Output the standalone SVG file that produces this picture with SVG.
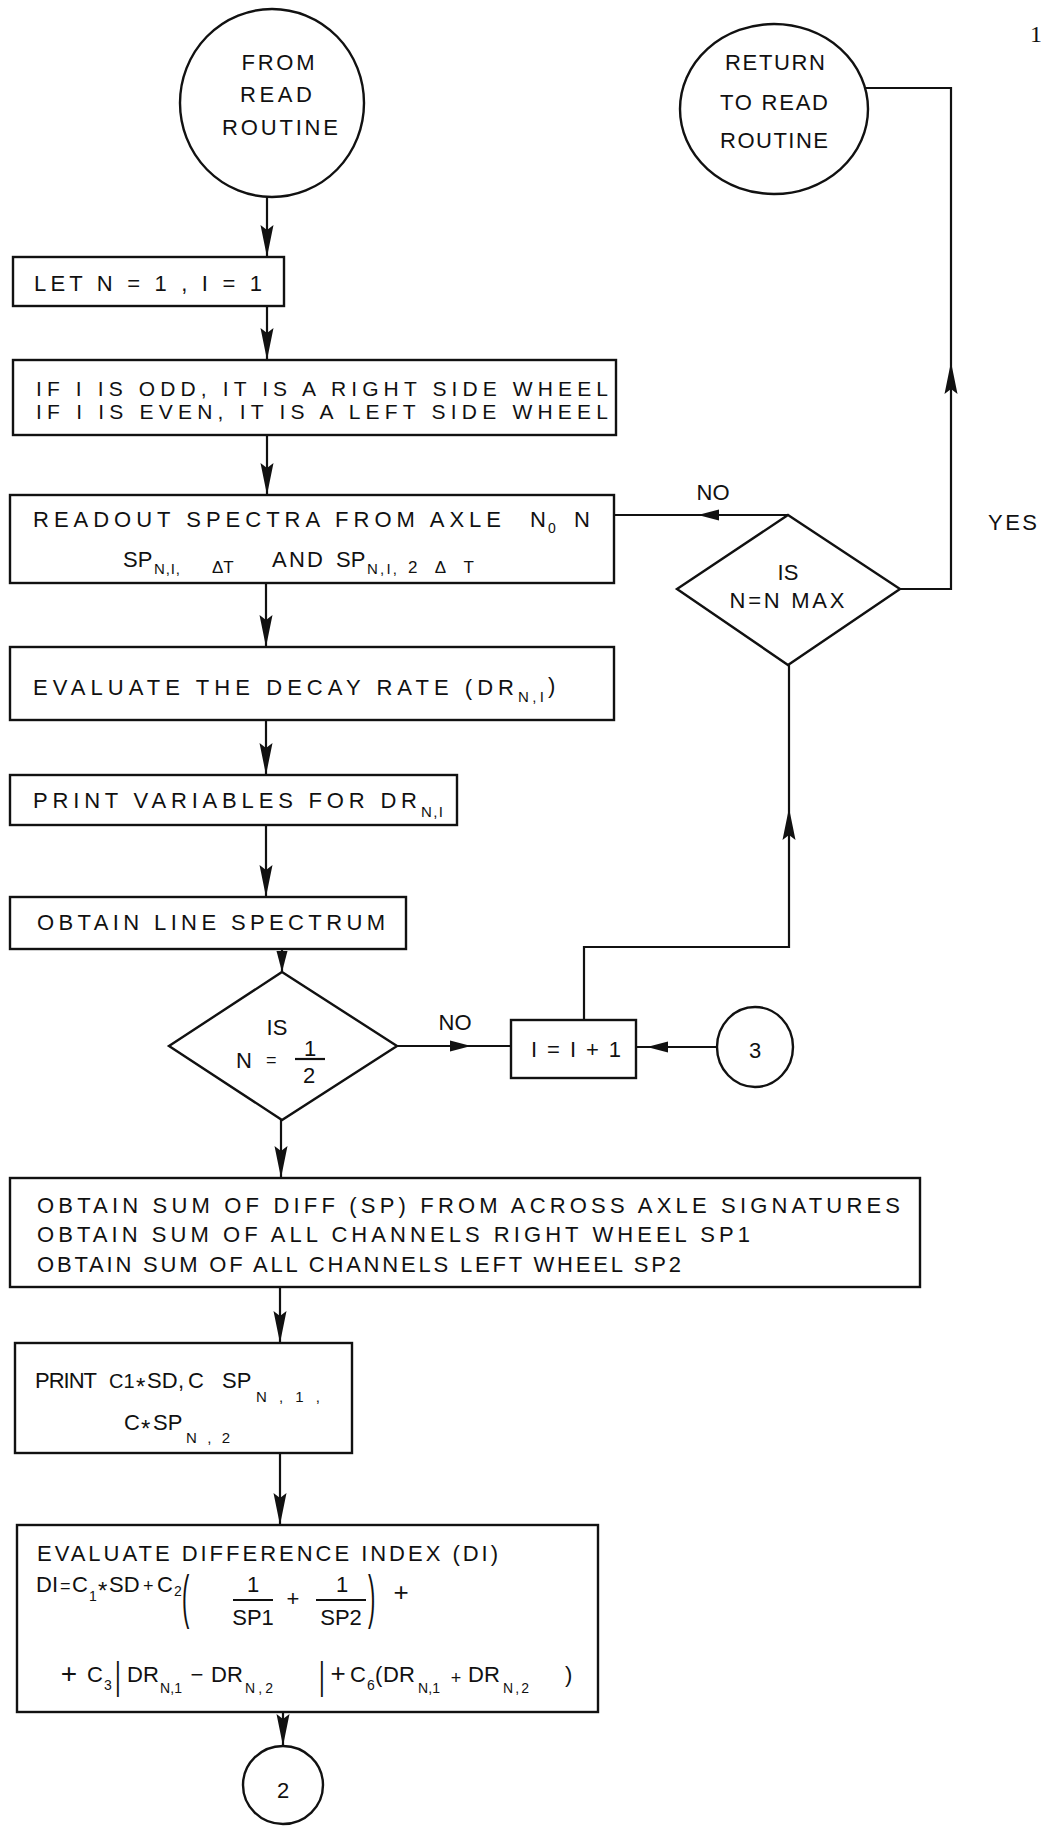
<svg xmlns="http://www.w3.org/2000/svg" xmlns:xlink="http://www.w3.org/1999/xlink" width="1041" height="1827" viewBox="0 0 1041 1827">
<style>
svg{font-size:22px}
.t{font-family:"Liberation Sans",Arial,sans-serif;fill:#111}
.m{text-anchor:middle}
.s{font-size:15px}
.box{fill:none;stroke:#111;stroke-width:2.4}
.ln{fill:none;stroke:#111;stroke-width:2.2}
</style>
<defs>
<path id="ahd" d="M0,0 L-6.5,-32 L0,-27 L6.5,-32 Z" fill="#111"/>
<path id="ahs" d="M0,0 L-5.5,-21 L5.5,-21 Z" fill="#111"/>
</defs>
<rect width="1041" height="1827" fill="#fff"/>

<g id="connectors">
<path class="ln" d="M267,197 V257"/>
<path class="ln" d="M267,306 V360"/>
<path class="ln" d="M267,435 V495"/>
<path class="ln" d="M266,583 V647"/>
<path class="ln" d="M266,720 V775"/>
<path class="ln" d="M266,825 V897"/>
<path class="ln" d="M282,949 V972"/>
<path class="ln" d="M281,1120 V1178"/>
<path class="ln" d="M280,1287 V1343"/>
<path class="ln" d="M280,1453 V1525"/>
<path class="ln" d="M283,1712 V1746"/>
<path class="ln" d="M397,1046 H511"/>
<path class="ln" d="M717,1047 H636"/>
<path class="ln" d="M584,1020 V947 H789 V665"/>
<path class="ln" d="M788,515 H614"/>
<path class="ln" d="M900,589 H951 V88 H866"/>
<use xlink:href="#ahd" x="267" y="257"/>
<use xlink:href="#ahd" x="267" y="360"/>
<use xlink:href="#ahd" x="267" y="495"/>
<use xlink:href="#ahd" x="266" y="647"/>
<use xlink:href="#ahd" x="266" y="775"/>
<use xlink:href="#ahd" x="266" y="897"/>
<use xlink:href="#ahs" x="282" y="972"/>
<use xlink:href="#ahd" x="281" y="1178"/>
<use xlink:href="#ahd" x="280" y="1343"/>
<use xlink:href="#ahd" x="280" y="1525"/>
<use xlink:href="#ahd" x="283" y="1746"/>
<use xlink:href="#ahs" transform="translate(471,1046) rotate(-90)"/>
<use xlink:href="#ahs" transform="translate(647,1047) rotate(90)"/>
<use xlink:href="#ahd" transform="translate(789,808) rotate(180)"/>
<use xlink:href="#ahs" transform="translate(698,515) rotate(90)"/>
<use xlink:href="#ahd" transform="translate(951,362) rotate(180)"/>
<text class="t m" x="713" y="500">NO</text>
<text class="t m" x="455" y="1030">NO</text>
<text class="t" x="988" y="530" textLength="49">YES</text>
</g>

<g id="n_from">
<ellipse cx="272" cy="103" rx="92" ry="94" class="box" stroke-width="2"/>
<text class="t m" x="278" y="70" textLength="73">FROM</text>
<text class="t m" x="276" y="102" textLength="72">READ</text>
<text class="t m" x="280" y="135" textLength="116">ROUTINE</text>
</g>

<g id="n_return">
<ellipse cx="774" cy="109" rx="94" ry="85" class="box" stroke-width="2"/>
<text class="t m" x="775" y="70" textLength="100">RETURN</text>
<text class="t m" x="774" y="110" textLength="108">TO READ</text>
<text class="t m" x="774" y="148" textLength="108">ROUTINE</text>
</g>

<g id="n_let">
<rect x="13" y="257" width="271" height="49" class="box"/>
<text class="t" x="34" y="291" textLength="228">LET N = 1 , I = 1</text>
</g>

<g id="n_if">
<rect x="13" y="360" width="603" height="75" class="box"/>
<text class="t" x="36" y="396" font-size="21" textLength="572">IF I IS ODD, IT IS A RIGHT SIDE WHEEL</text>
<text class="t" x="36" y="419" font-size="21" textLength="572">IF I IS EVEN, IT IS A LEFT SIDE WHEEL</text>
</g>

<g id="n_readout">
<rect x="10" y="495" width="604" height="88" class="box"/>
<text class="t" x="33" y="527" textLength="468">READOUT SPECTRA FROM AXLE</text>
<text class="t" x="530" y="527">N</text>
<text class="t" x="548" y="533" font-size="14">0</text>
<text class="t" x="574" y="527">N</text>
<text class="t" x="123" y="567">SP</text>
<text class="t s" x="154" y="574" textLength="26">N,I,</text>
<text class="t" x="212" y="573" font-size="17">ΔT</text>
<text class="t" x="272" y="567" textLength="51">AND</text>
<text class="t" x="336" y="567">SP</text>
<text class="t s" x="367" y="574" textLength="30">N,I,</text>
<text class="t" x="408" y="573" font-size="17" textLength="66">2ΔT</text>
</g>

<g id="n_decay">
<rect x="10" y="647" width="604" height="73" class="box"/>
<text class="t" x="33" y="695" textLength="481">EVALUATE THE DECAY RATE (DR</text>
<text class="t s" x="518" y="702" textLength="26">N,I</text>
<text class="t" x="548" y="693">)</text>
</g>

<g id="n_printvar">
<rect x="10" y="775" width="447" height="50" class="box"/>
<text class="t" x="33" y="808" textLength="384">PRINT VARIABLES FOR DR</text>
<text class="t s" x="421" y="817" textLength="22">N,I</text>
</g>

<g id="n_line">
<rect x="10" y="897" width="396" height="52" class="box"/>
<text class="t" x="37" y="930" textLength="348">OBTAIN LINE SPECTRUM</text>
</g>

<g id="n_dec1">
<polygon points="282,972 397,1046 282,1120 169,1046" class="box" stroke-width="2.2"/>
<text class="t m" x="277" y="1035">IS</text>
<text class="t" x="236" y="1068">N</text>
<text class="t" x="266" y="1066" font-size="18">=</text>
<text class="t m" x="310" y="1056">1</text>
<path class="ln" d="M295,1059 H325"/>
<text class="t m" x="309" y="1083">2</text>
</g>

<g id="n_inc">
<rect x="511" y="1020" width="125" height="58" class="box"/>
<text class="t m" x="576" y="1057" textLength="90">I = I + 1</text>
</g>

<g id="n_c3">
<ellipse cx="755" cy="1047" rx="38" ry="40" class="box" stroke-width="2"/>
<text class="t m" x="755" y="1058">3</text>
</g>

<g id="n_dec2">
<polygon points="788,515 900,589 788,665 677,589" class="box" stroke-width="2.2"/>
<text class="t m" x="788" y="580">IS</text>
<text class="t m" x="787" y="608" textLength="115">N=N MAX</text>
</g>

<g id="n_sum">
<rect x="10" y="1178" width="910" height="109" class="box"/>
<text class="t" x="37" y="1213" textLength="863">OBTAIN SUM OF DIFF (SP) FROM ACROSS AXLE SIGNATURES</text>
<text class="t" x="37" y="1242" textLength="713">OBTAIN SUM OF ALL CHANNELS RIGHT WHEEL SP1</text>
<text class="t" x="37" y="1272" textLength="644">OBTAIN SUM OF ALL CHANNELS LEFT WHEEL SP2</text>
</g>

<g id="n_print">
<rect x="15" y="1343" width="337" height="110" class="box"/>
<text class="t" x="35" y="1388" textLength="62">PRINT</text>
<text class="t" x="109" y="1388" font-size="20">C1</text>
<text class="t" x="136" y="1395" font-size="24">*</text>
<text class="t" x="147" y="1388">SD</text>
<text class="t" x="178" y="1388">,</text>
<text class="t" x="188" y="1388">C</text>
<text class="t" x="222" y="1388">SP</text>
<text class="t s" x="256" y="1402" textLength="64">N,1,</text>
<text class="t" x="124" y="1430">C</text>
<text class="t" x="141" y="1437" font-size="24">*</text>
<text class="t" x="153" y="1430">SP</text>
<text class="t s" x="186" y="1443" textLength="44">N,2</text>
</g>

<g id="n_di">
<rect x="17" y="1525" width="581" height="187" class="box"/>
<text class="t" x="37" y="1561" textLength="461">EVALUATE DIFFERENCE INDEX (DI)</text>
<text class="t" x="36" y="1592">DI</text>
<text class="t" x="60" y="1592" font-size="18">=</text>
<text class="t" x="72" y="1592">C</text>
<text class="t" x="89" y="1601" font-size="14">1</text>
<text class="t" x="98" y="1599" font-size="24">*</text>
<text class="t" x="109" y="1592">SD</text>
<text class="t" x="143" y="1592" font-size="18">+</text>
<text class="t" x="157" y="1592">C</text>
<text class="t" x="174" y="1596" font-size="14">2</text>
<text class="t" transform="translate(182,1617) scale(1,2.7)">(</text>
<text class="t m" x="253" y="1592">1</text>
<path class="ln" d="M233,1600 H273"/>
<text class="t m" x="253" y="1625">SP1</text>
<text class="t m" x="293" y="1606">+</text>
<text class="t m" x="342" y="1592">1</text>
<path class="ln" d="M316,1600 H366"/>
<text class="t m" x="341" y="1625">SP2</text>
<text class="t" transform="translate(368,1617) scale(1,2.7)">)</text>
<text class="t m" x="401" y="1601" font-size="26">+</text>
<text class="t m" x="69" y="1683" font-size="28">+</text>
<text class="t" x="87" y="1682">C</text>
<text class="t" x="104" y="1690" font-size="14">3</text>
<text class="t" transform="translate(115,1689) scale(1,1.8)">|</text>
<text class="t" x="127" y="1682">DR</text>
<text class="t" x="160" y="1693" font-size="14" textLength="22">N,1</text>
<text class="t m" x="197" y="1682">−</text>
<text class="t" x="211" y="1682">DR</text>
<text class="t" x="245" y="1693" font-size="14" textLength="28">N,2</text>
<text class="t" transform="translate(319,1689) scale(1,1.8)">|</text>
<text class="t m" x="338" y="1682" font-size="26">+</text>
<text class="t" x="350" y="1682">C</text>
<text class="t" x="367" y="1690" font-size="14">6</text>
<text class="t" x="375" y="1682">(</text>
<text class="t" x="383" y="1682">DR</text>
<text class="t" x="418" y="1693" font-size="14" textLength="22">N,1</text>
<text class="t m" x="456" y="1684" font-size="18">+</text>
<text class="t" x="468" y="1682">DR</text>
<text class="t" x="503" y="1693" font-size="14" textLength="26">N,2</text>
<text class="t" x="565" y="1682">)</text>
</g>

<g id="n_c2">
<ellipse cx="283" cy="1785" rx="40" ry="39" class="box" stroke-width="2"/>
<text class="t m" x="283" y="1798">2</text>
</g>

<g id="page_mark">
<text x="1030" y="42" font-family="'Liberation Serif',serif" font-size="24" fill="#111">1</text>
</g>
</svg>
